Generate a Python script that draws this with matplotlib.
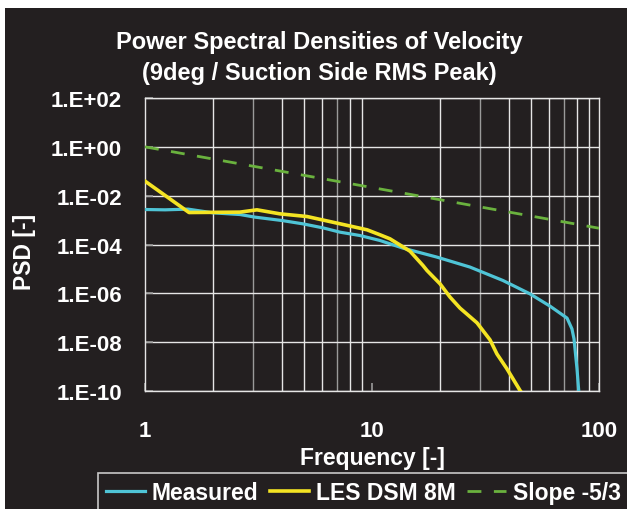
import matplotlib
matplotlib.use("Agg")
import matplotlib.pyplot as plt
import numpy as np
from matplotlib.patches import Rectangle
from matplotlib.ticker import FixedLocator, FixedFormatter, NullLocator

plt.rcParams['font.family'] = ['Liberation Sans', 'DejaVu Sans']
plt.rcParams['font.weight'] = 'bold'

# ---- data ----
measured_f = [1.0, 1.225, 1.547, 1.993, 2.621, 3.052, 4.013, 4.966, 6.083, 7.228,
              8.854, 10.84, 13.69, 19.33, 27.02, 37.76, 49.66, 60.8, 72.3, 76.0,
              77.6, 80.0, 81.6]
measured_psd = [2.71e-3, 2.63e-3, 2.81e-3, 1.98e-3, 1.69e-3, 1.32e-3, 9.6e-4, 7.0e-4,
                4.8e-4, 3.2e-4, 2.33e-4, 1.46e-4, 7.1e-5, 3.04e-5, 1.19e-5, 3.35e-6,
                9.5e-7, 3.0e-7, 9.7e-8, 3.5e-8, 1.37e-8, 8.1e-10, 7.7e-11]

les_f = [1.0, 1.563, 2.621, 3.114, 3.932, 5.173, 7.014, 9.51, 10.84, 12.0, 14.71,
         16.77, 17.47, 19.94, 22.07, 24.42, 29.01, 33.1, 35.5, 39.3, 44.9, 46.4]
les_psd = [3.94e-2, 2.04e-3, 2.12e-3, 2.63e-3, 1.80e-3, 1.40e-3, 7.5e-4, 4.0e-4,
           2.5e-4, 1.71e-4, 5.3e-5, 1.38e-5, 8.6e-6, 2.45e-6, 7.0e-7, 2.48e-7,
           6.2e-8, 1.25e-8, 3.3e-9, 8.1e-10, 1.05e-10, 6.9e-11]

slope_f = [1.0, 100.0]
slope_psd = [1.0, 100.0 ** (-5.0 / 3.0)]

y_ticks = [1e2, 1e0, 1e-2, 1e-4, 1e-6, 1e-8, 1e-10]
y_tick_labels = ["1.E+02", "1.E+00", "1.E-02", "1.E-04", "1.E-06", "1.E-08", "1.E-10"]
x_ticks = [1, 10, 100]
x_tick_labels = ["1", "10", "100"]

title = "Power Spectral Densities of Velocity\n(9deg / Suction Side RMS Peak)"
series_names = ["Measured", "LES DSM 8M", "Slope -5/3"]

# ---- style ----
BG = '#231f20'
W, H = 627, 510
fig = plt.figure(figsize=(W / 100, H / 100), dpi=100, facecolor='white')
fig.patches.append(Rectangle((5 / W, 0), 1, 1 - 9 / H, transform=fig.transFigure,
                             facecolor=BG, edgecolor='none', zorder=-10))

ax = fig.add_axes([145 / W, 1 - 392 / H, (599 - 145) / W, (392 - 99) / H])
ax.set_zorder(1)
ax.set_facecolor(BG)
ax.set_xscale('log')
ax.set_yscale('log')
ax.set_xlim(1, 100)
ax.set_ylim(1e-10, 1e2)

# grid
for dec in [1, 10]:
    for m in range(2, 10):
        v = dec * m
        col = '#9a9a9a' if m in (3, 7) else '#e6e6e6'
        ax.axvline(v, color=col, lw=1.0, zorder=1)
for yv in y_ticks:
    ax.axhline(yv, color='#e6e6e6', lw=1.0, zorder=1)

ax.plot(slope_f, slope_psd, color='#6ab23e', lw=2.0, dashes=(5, 4.5), zorder=3,
        label=series_names[2])
ax.plot(measured_f, measured_psd, color='#4fc4d6', lw=2.3, zorder=4,
        label=series_names[0])
ax.plot(les_f, les_psd, color='#f4e423', lw=2.6, zorder=5, label=series_names[1])

for s in ax.spines.values():
    s.set_color('#e6e6e6')
    s.set_linewidth(1.0)

ax.yaxis.set_major_locator(FixedLocator(y_ticks))
ax.yaxis.set_major_formatter(FixedFormatter(y_tick_labels))
ax.yaxis.set_minor_locator(NullLocator())
ax.xaxis.set_major_locator(FixedLocator(x_ticks))
ax.xaxis.set_major_formatter(FixedFormatter(x_tick_labels))
ax.xaxis.set_minor_locator(NullLocator())
ax.tick_params(axis='y', direction='in', length=6, width=1.2, color='#9a9a9a',
               labelsize=16, labelcolor='white', pad=16.5)
ax.tick_params(axis='x', direction='in', length=6, width=1.2, color='#9a9a9a',
               labelsize=16, labelcolor='white', pad=21)
for lab in ax.get_xticklabels() + ax.get_yticklabels():
    lab.set_fontweight('bold')

ax.set_xlabel("Frequency [-]", color='white', fontsize=16.5, fontweight='bold', labelpad=4)
ax.set_ylabel("PSD [-]", color='white', fontsize=16.5, fontweight='bold')
ax.yaxis.set_label_coords(24 / W, 1 - 252 / H, transform=fig.transFigure)
ax.xaxis.set_label_coords(372 / W, 1 - 459 / H, transform=fig.transFigure)
ax.xaxis.label.set_verticalalignment('center')
ax.yaxis.label.set_verticalalignment('center')

fig.text(319 / W, 1 - 58 / H, title, ha='center', va='center', color='white',
         fontsize=17, fontweight='bold', linespacing=1.45)

handles, labels = ax.get_legend_handles_labels()
order = [1, 2, 0]
leg = fig.legend([handles[i] for i in order], [labels[i] for i in order],
                 loc='upper left', bbox_to_anchor=(98 / W, 1 - 474 / H), ncol=3,
                 frameon=True, fancybox=False, facecolor=BG, edgecolor='#c8c8c8',
                 framealpha=1, fontsize=16.5, handlelength=1.7, handletextpad=0.3,
                 columnspacing=0.5, borderpad=0.35, borderaxespad=0)
leg.get_frame().set_linewidth(1.2)
leg.set_zorder(5)
for t in leg.get_texts():
    t.set_color('white')
    t.set_fontweight('bold')

fig.savefig('out.png', dpi=100, facecolor='white')
